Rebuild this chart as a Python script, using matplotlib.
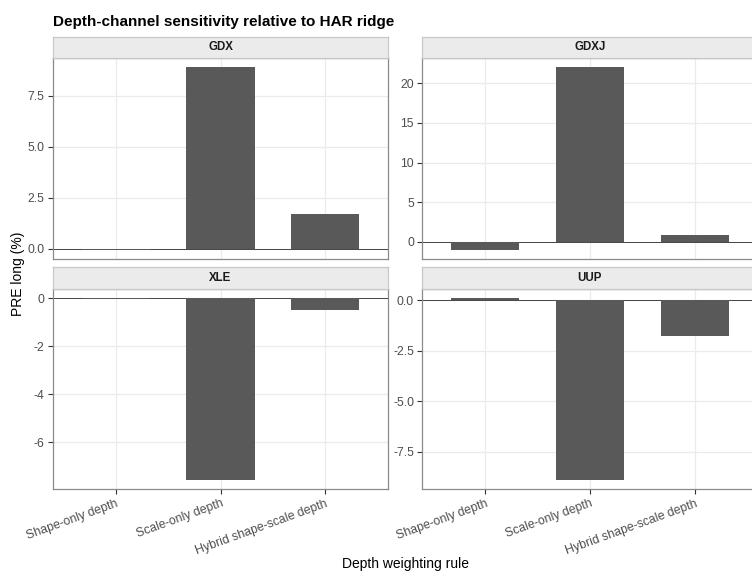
import matplotlib
matplotlib.use("Agg")
import matplotlib.pyplot as plt
import numpy as np

plt.rcParams['font.family'] = ['Liberation Sans', 'DejaVu Sans']

# PRE long (%) by ticker and depth weighting rule
rules = ["Shape-only depth", "Scale-only depth", "Hybrid shape-scale depth"]
tickers = ["GDX", "GDXJ", "XLE", "UUP"]
gdx = [-0.06, 8.89, 1.70]
gdxj = [-1.05, 22.0, 0.92]
xle = [-0.05, -7.57, -0.50]
uup = [0.10, -8.90, -1.75]
values = [gdx, gdxj, xle, uup]
yticks = [
    [0.0, 2.5, 5.0, 7.5],
    [0, 5, 10, 15, 20],
    [-6, -4, -2, 0],
    [-7.5, -5.0, -2.5, 0.0],
]
ytick_fmt = ["{:.1f}", "{:.0f}", "{:.0f}", "{:.1f}"]

W, H = 752, 572
fig = plt.figure(figsize=(W / 100, H / 100), dpi=100)

def fx(px):
    return px / W

def fy(px):
    return 1 - px / H

left_x = [53, 422.4]
panel_w = 335
rows = [(58.3, 259.3, 36.7), (289.0, 489.3, 267.3)]

bar_color = "#595959"
grid_color = "#EBEBEB"
border_color = "#8A8A8A"
tick_text = "#4D4D4D"

for i, (name, vals) in enumerate(zip(tickers, values)):
    r, c = divmod(i, 2)
    top, bot, strip_top = rows[r]
    x0 = left_x[c]
    ax = fig.add_axes([fx(x0), fy(bot), panel_w / W, (bot - top) / H])
    xs = np.arange(1, len(rules) + 1)
    ax.set_axisbelow(True)
    ax.grid(True, color=grid_color, linewidth=0.9)
    ax.axhline(0, color="#2B2B2B", linewidth=0.6, zorder=1.5)
    ax.bar(xs, vals, width=0.65, color=bar_color, edgecolor="none", zorder=2)
    ax.set_xlim(0.4, 3.6)
    lo, hi = min(min(vals), 0), max(max(vals), 0)
    span = hi - lo
    ax.set_ylim(lo - 0.05 * span, hi + 0.05 * span)
    ax.set_yticks(yticks[i])
    ax.set_yticklabels([ytick_fmt[i].format(v) for v in yticks[i]])
    ax.set_xticks(xs)
    ax.tick_params(axis="both", labelsize=8.8, colors="#333333",
                   labelcolor=tick_text, width=0.8, length=3.5, pad=2.5)
    if r == 1:
        ax.set_xticklabels(rules, rotation=20, ha="right", va="top",
                           rotation_mode="anchor")
    else:
        ax.set_xticklabels([])
        ax.tick_params(axis="x", length=0)
    for s in ax.spines.values():
        s.set_color(border_color)
        s.set_linewidth(0.9)

    # facet strip
    sax = fig.add_axes([fx(x0), fy(top), panel_w / W, (top - strip_top) / H])
    sax.set_facecolor("#EBEBEB")
    sax.set_xticks([])
    sax.set_yticks([])
    for s in sax.spines.values():
        s.set_color("#C8C8C8")
        s.set_linewidth(0.9)
    sax.text(0.5, 0.5, name, transform=sax.transAxes, ha="center", va="center",
             fontsize=8.3, fontweight="bold", color="#1A1A1A")

fig.text(fx(53), fy(26), "Depth-channel sensitivity relative to HAR ridge",
         fontsize=11, fontweight="bold", ha="left", va="baseline")
fig.text(fx(405), fy(564), "Depth weighting rule", fontsize=10,
         ha="center", va="center")
fig.text(fx(18), fy(274), "PRE long (%)", fontsize=10, rotation=90,
         ha="center", va="center")

fig.savefig("out.png", dpi=100, facecolor="white")
